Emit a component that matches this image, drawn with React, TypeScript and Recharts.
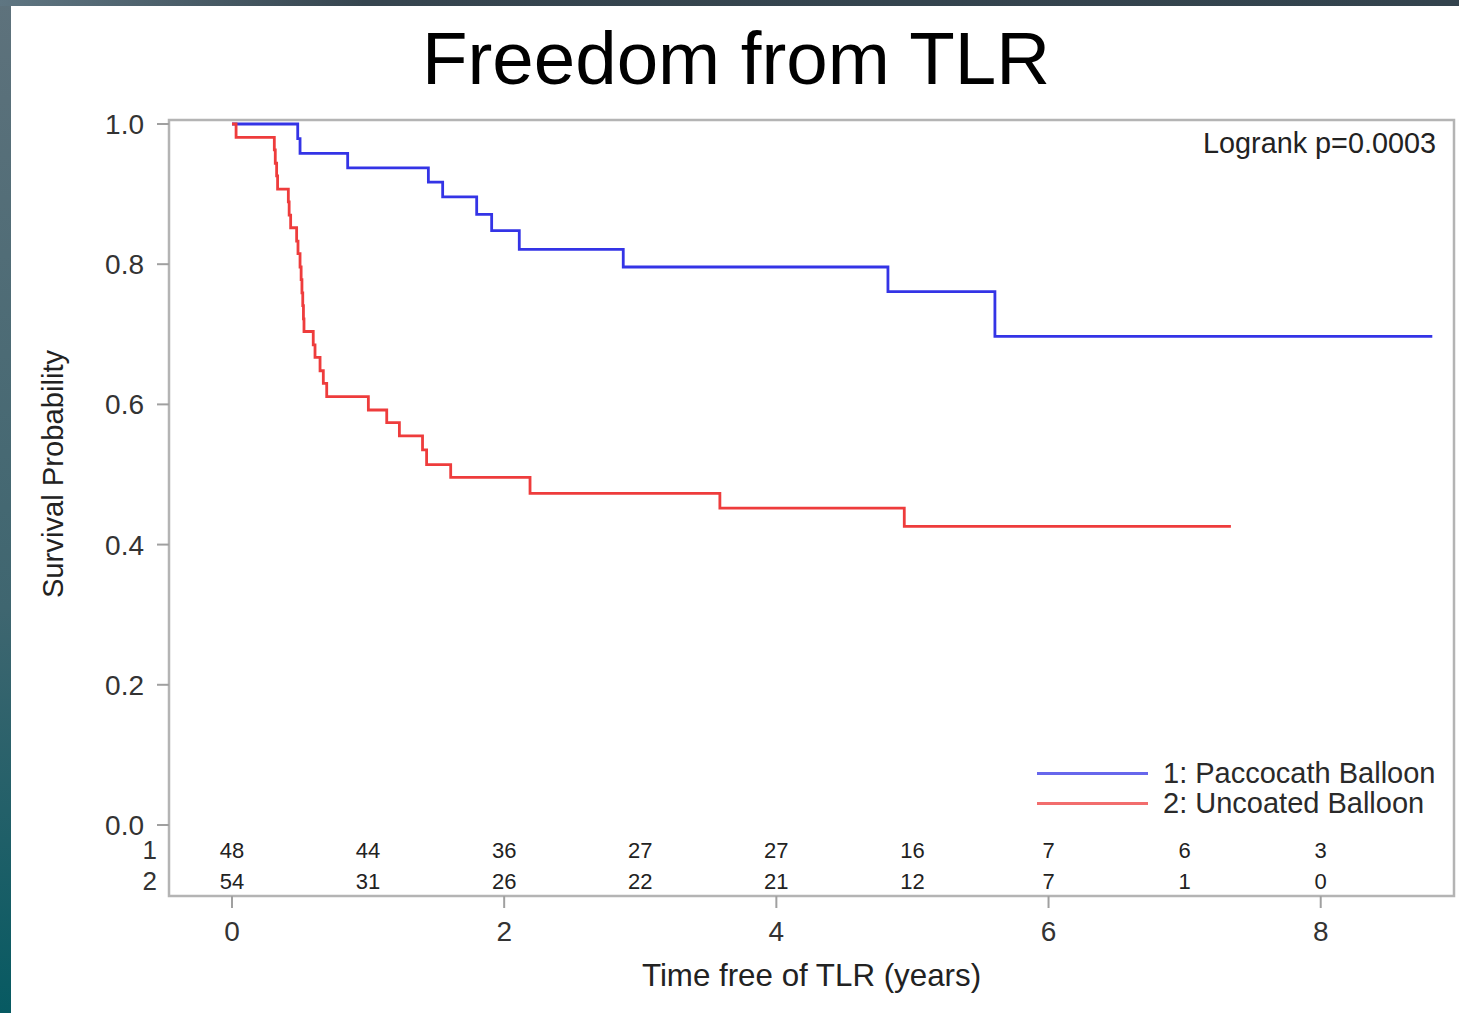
import React from 'react';
import { ComposedChart, Line, Scatter, XAxis, YAxis, ReferenceArea, ReferenceDot, Legend } from 'recharts';

// Kaplan-Meier steps (years, survival probability)
const paccocathTimes = [0, 0.483, 0.5, 0.85, 1.443, 1.548, 1.798, 1.908, 2.111, 2.875, 4.82, 5.606, 8.82];
const paccocathSurv = [1, 0.979, 0.958, 0.9375, 0.917, 0.896, 0.871, 0.848, 0.821, 0.796, 0.761, 0.697, 0.697];

const uncoatedTimes = [
  0, 0.03, 0.311, 0.318, 0.328, 0.335, 0.414, 0.42, 0.431, 0.475, 0.485, 0.5, 0.508, 0.514, 0.52, 0.525,
  0.529, 0.597, 0.61, 0.647, 0.671, 0.696, 1.002, 1.137, 1.23, 1.4, 1.43, 1.607, 2.19, 3.585, 4.94, 7.34,
];
const uncoatedSurv = [
  1, 0.981, 0.963, 0.944, 0.926, 0.907, 0.889, 0.87, 0.852, 0.833, 0.815, 0.796, 0.778, 0.759, 0.741, 0.722,
  0.704, 0.685, 0.667, 0.648, 0.63, 0.611, 0.592, 0.574, 0.555, 0.535, 0.514, 0.496, 0.473, 0.452, 0.426, 0.426,
];

// numbers at risk
const riskTimes = [0, 1, 2, 3, 4, 5, 6, 7, 8];
const riskPaccocath = [48, 44, 36, 27, 27, 16, 7, 6, 3];
const riskUncoated = [54, 31, 26, 22, 21, 12, 7, 1, 0];

const xTicks = [0, 2, 4, 6, 8];
const yTicks = [0, 0.2, 0.4, 0.6, 0.8, 1.0];

const BLUE = '#3434e6';
const RED = '#ee3c3c';
const FONT = '"Liberation Sans", Arial, sans-serif';

const X_MIN = -0.4629;
const X_MAX = 8.9794;
const Y_MIN = -0.1013;
const Y_MAX = 1.0057;
const ROW1_Y = -0.0357;
const ROW2_Y = -0.0799;

const paccocathData = paccocathTimes.map((t, i) => ({ t, s: paccocathSurv[i] }));
const uncoatedData = uncoatedTimes.map((t, i) => ({ t, s: uncoatedSurv[i] }));
const riskData = [
  ...riskTimes.map((t, i) => ({ t, y: ROW1_Y, n: riskPaccocath[i] })),
  ...riskTimes.map((t, i) => ({ t, y: ROW2_Y, n: riskUncoated[i] })),
];

const RiskText = (props: any) => {
  const { cx, cy, payload } = props;
  return (
    <text x={cx} y={cy} dy="0.35em" textAnchor="middle" fontSize={22} fill="#222" fontFamily={FONT}>
      {payload.n}
    </text>
  );
};

const renderLegend = (props: any) => {
  const items = (props.payload || []).filter((p: any) => p.type !== 'none');
  return (
    <div style={{ fontFamily: FONT, fontSize: 29, color: '#2a2a2a' }}>
      {items.map((item: any) => (
        <div key={item.value} style={{ display: 'flex', alignItems: 'center', height: 30 }}>
          <div style={{ width: 111, height: 3, background: item.color, opacity: 0.75, marginRight: 15 }} />
          <span style={{ lineHeight: '30px' }}>{item.value}</span>
        </div>
      ))}
    </div>
  );
};

export default function App() {
  return (
    <div style={{ position: 'absolute', left: 0, top: 0, width: 1459, height: 1013, overflow: 'hidden', background: 'linear-gradient(to bottom, #5e727c, #3f6670 60%, #075a62)' }}>
      <div style={{ position: 'absolute', left: 0, top: 0, width: 1459, height: 6, background: 'linear-gradient(to right, #5f7682, #36454f 25%, #33434d)' }} />
      <div style={{ position: 'absolute', left: 11, top: 6, width: 1448, height: 1007, background: '#fff' }} />

      <div style={{ position: 'absolute', left: 0, top: 22, width: 1472, textAlign: 'center', fontFamily: FONT, fontSize: 74.5, lineHeight: '74px', color: '#000' }}>
        Freedom from TLR
      </div>

      <div style={{ position: 'absolute', left: 0, top: 0 }}>
        <ComposedChart width={1459} height={1013} margin={{ top: 120, right: 5, bottom: 57, left: 89 }}>
          <XAxis
            dataKey="t"
            type="number"
            domain={[X_MIN, X_MAX]}
            allowDataOverflow
            ticks={xTicks}
            axisLine={false}
            tickSize={12}
            tickMargin={13}
            tickLine={{ stroke: '#a0a0a0', strokeWidth: 2 }}
            tick={{ fontSize: 28, fill: '#333', fontFamily: FONT }}
            height={60}
          />
          <YAxis
            type="number"
            domain={[Y_MIN, Y_MAX]}
            allowDataOverflow
            ticks={yTicks}
            tickFormatter={(v: number) => v.toFixed(1)}
            axisLine={false}
            tickSize={12}
            tickMargin={13}
            tickLine={{ stroke: '#a0a0a0', strokeWidth: 2 }}
            tick={{ fontSize: 28, fill: '#333', fontFamily: FONT }}
            width={80}
          />
          <ReferenceArea x1={X_MIN} x2={X_MAX} y1={Y_MIN} y2={Y_MAX} fill="none" stroke="#b4b4b4" strokeWidth={2.5} ifOverflow="visible" />
          <Line
            data={paccocathData}
            dataKey="s"
            name="1: Paccocath Balloon"
            type="stepAfter"
            stroke={BLUE}
            strokeWidth={2.8}
            dot={false}
            isAnimationActive={false}
          />
          <Line
            data={uncoatedData}
            dataKey="s"
            name="2: Uncoated Balloon"
            type="stepAfter"
            stroke={RED}
            strokeWidth={2.8}
            dot={false}
            isAnimationActive={false}
          />
          <Scatter data={riskData} dataKey="y" shape={RiskText} legendType="none" isAnimationActive={false} />
          <ReferenceDot x={X_MIN} y={ROW1_Y} r={0} ifOverflow="visible" label={{ value: '1', position: 'left', offset: 12, fontSize: 26, fill: '#333', fontFamily: FONT }} />
          <ReferenceDot x={X_MIN} y={ROW2_Y} r={0} ifOverflow="visible" label={{ value: '2', position: 'left', offset: 12, fontSize: 26, fill: '#333', fontFamily: FONT }} />
          <Legend
            layout="vertical"
            align="center"
            verticalAlign="middle"
            content={renderLegend}
            wrapperStyle={{ position: 'absolute', left: 1037, top: 758, width: 'auto', height: 'auto' }}
          />
        </ComposedChart>
      </div>

      <div style={{ position: 'absolute', right: 23, top: 127, fontFamily: FONT, fontSize: 28.8, lineHeight: '32px', color: '#222' }}>
        Logrank p=0.0003
      </div>

      <div style={{ position: 'absolute', left: 169, width: 1285, top: 959, textAlign: 'center', fontFamily: FONT, fontSize: 31.3, lineHeight: '34px', color: '#222' }}>
        Time free of TLR (years)
      </div>

      <div style={{ position: 'absolute', left: 53 - 200, top: 474 - 16, width: 400, height: 32, textAlign: 'center', transform: 'rotate(-90deg)', fontFamily: FONT, fontSize: 29.2, lineHeight: '32px', color: '#222' }}>
        Survival Probability
      </div>
    </div>
  );
}
